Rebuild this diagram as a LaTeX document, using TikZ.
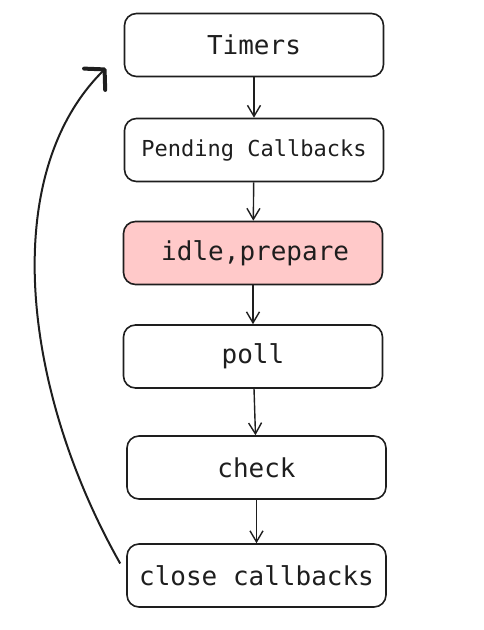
\documentclass[tikz,border=0pt]{standalone}
\usepackage{fontspec}
\setmonofont{DejaVu Sans Mono}
\usetikzlibrary{arrows.meta}
\definecolor{ink}{HTML}{1E1E1E}
\definecolor{pinkfill}{HTML}{FFC9C9}
\tikzset{
  stage/.style={draw=ink, line width=1.6pt, rounded corners=12pt, fill=white,
    minimum width=259pt, minimum height=63pt, inner sep=0pt,
    font=\ttfamily\fontsize{26}{29}\selectfont, text=ink},
  flow/.style={draw=ink, line width=1.4pt, -{Straight Barb[length=11pt,width=13pt,line width=1.4pt]}},
  loop/.style={draw=ink, line width=2pt, -{Straight Barb[length=14pt,width=30pt,line width=4pt,round]}}
}
\begin{document}
\begin{tikzpicture}[x=1pt,y=-1pt]
\useasboundingbox (0,0) rectangle (484,630);
\node[stage] (timers) at (254,45) {Timers};
\node[stage, font=\ttfamily\fontsize{22}{26}\selectfont] (pending) at (254,150) {Pending Callbacks};
\node[stage, fill=pinkfill] (idle) at (253,253) {\,idle,prepare};
\node[stage] (poll) at (253,356.5) {poll};
\node[stage] (check) at (256.5,467.5) {check};
\node[stage] (close) at (256.5,575.5) {close callbacks};
\coordinate (tip) at (106,68);
\draw[flow] (timers) -- (pending);
\draw[flow] (pending) -- (idle);
\draw[flow] (idle) -- (poll);
\draw[flow] (poll) -- (check);
\draw[flow] (check) -- (close);
\draw[loop] (close.west) ++(-6,-12) .. controls (22,390) and (-2,175) .. (tip);
\end{tikzpicture}
\end{document}
